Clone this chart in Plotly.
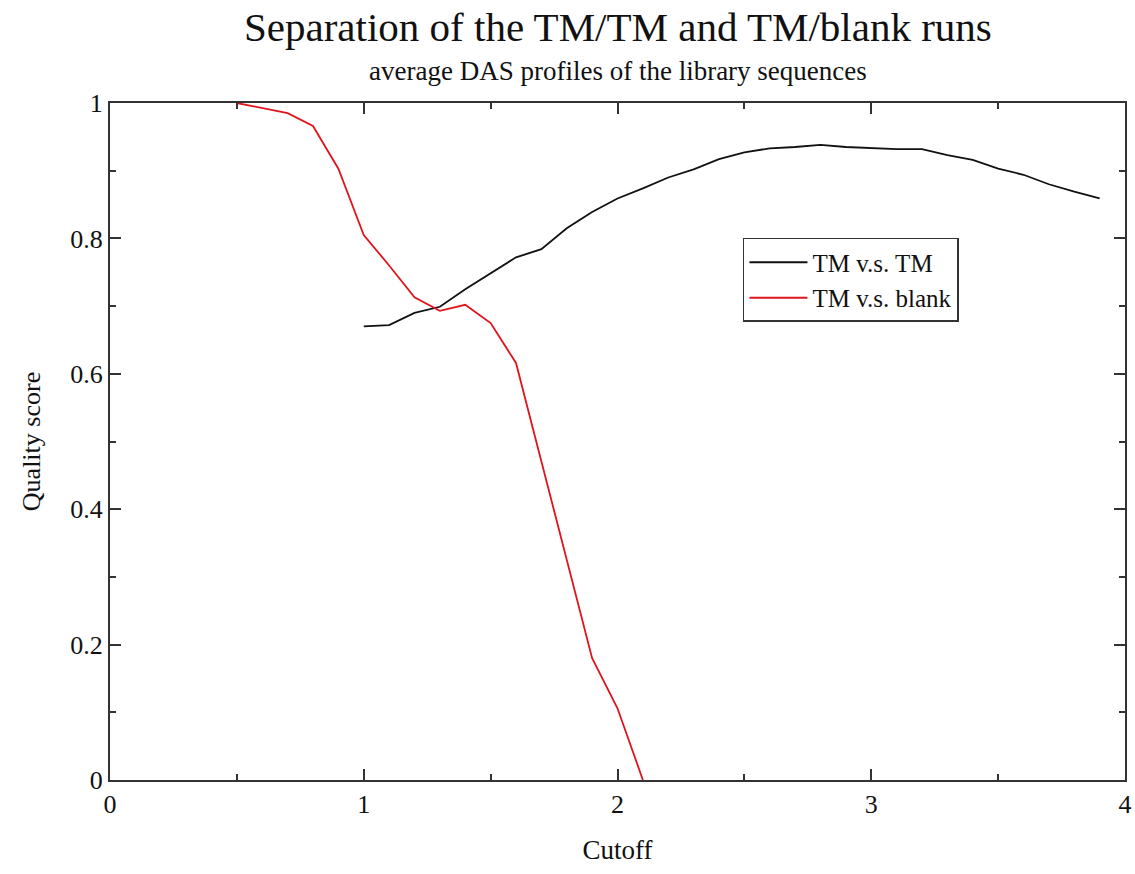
import plotly.graph_objects as go

# Data
tm_tm_x = [1.0, 1.1, 1.2, 1.3, 1.4, 1.5, 1.6, 1.7, 1.8, 1.9, 2.0, 2.1, 2.2, 2.3, 2.4,
           2.5, 2.6, 2.7, 2.8, 2.9, 3.0, 3.1, 3.2, 3.3, 3.4, 3.5, 3.6, 3.7, 3.8, 3.9]
tm_tm_y = [0.670, 0.672, 0.690, 0.699, 0.725, 0.748, 0.772, 0.784, 0.815, 0.839, 0.859,
           0.874, 0.890, 0.902, 0.917, 0.927, 0.933, 0.935, 0.938, 0.935, 0.933, 0.932,
           0.932, 0.923, 0.916, 0.903, 0.894, 0.880, 0.869, 0.859]

tm_blank_x = [0.5, 0.6, 0.7, 0.8, 0.9, 1.0, 1.1, 1.2, 1.3, 1.4, 1.5, 1.6, 1.7, 1.8, 1.9, 2.0, 2.1]
tm_blank_y = [1.0, 0.993, 0.985, 0.966, 0.903, 0.805, 0.760, 0.713, 0.693, 0.702, 0.675,
              0.616, 0.470, 0.325, 0.180, 0.106, 0.0]

title_text = "Separation of the TM/TM and TM/blank runs"
subtitle_text = "average DAS profiles of the library sequences"
x_title = "Cutoff"
y_title = "Quality score"

FONT = "Liberation Serif, Times New Roman, serif"
INK = "#111111"

fig = go.Figure()
fig.add_trace(go.Scatter(x=tm_tm_x, y=tm_tm_y, mode="lines", name="TM v.s. TM",
                         line=dict(color="#111111", width=1.8)))
fig.add_trace(go.Scatter(x=tm_blank_x, y=tm_blank_y, mode="lines", name="TM v.s. blank",
                         line=dict(color="#e0141c", width=1.8)))

axis_common = dict(
    showline=True, linecolor="#333333", linewidth=2, mirror="allticks",
    ticks="inside", ticklen=11, tickwidth=2, tickcolor="#333333",
    showgrid=False, zeroline=False, automargin=False,
    tickfont=dict(family=FONT, size=26, color=INK),
)

fig.update_xaxes(range=[0, 4], dtick=1, tick0=0,
                 minor=dict(ticks="inside", ticklen=6, tickwidth=1.5, tickcolor="#333333", dtick=0.5),
                 title=dict(text=x_title, font=dict(family=FONT, size=27, color=INK), standoff=22),
                 **axis_common)
fig.update_yaxes(range=[0, 1], dtick=0.2, tick0=0,
                 minor=dict(ticks="inside", ticklen=6, tickwidth=1.5, tickcolor="#333333", dtick=0.1),
                 title=dict(text=y_title, font=dict(family=FONT, size=26, color=INK), standoff=22),
                 **axis_common)

fig.update_layout(
    width=1135, height=874,
    margin=dict(l=110, r=10, t=103, b=94),
    plot_bgcolor="white", paper_bgcolor="white",
    font=dict(family=FONT, color=INK),
    showlegend=True,
    legend=dict(x=0.6236, y=0.8006, xanchor="left", yanchor="top",
                bordercolor="#333333", borderwidth=1.5, bgcolor="white",
                font=dict(family=FONT, size=25, color=INK),
                tracegroupgap=0, itemwidth=58),
)
fig.add_annotation(text=title_text, xref="paper", yref="paper", x=0.5, y=1.0,
                   yshift=76, showarrow=False, xanchor="center", yanchor="middle",
                   font=dict(family=FONT, size=41, color=INK))
fig.add_annotation(text=subtitle_text, xref="paper", yref="paper", x=0.5, y=1.0,
                   yshift=32, showarrow=False, xanchor="center", yanchor="middle",
                   font=dict(family=FONT, size=27, color=INK))

fig.write_html("out.html")
